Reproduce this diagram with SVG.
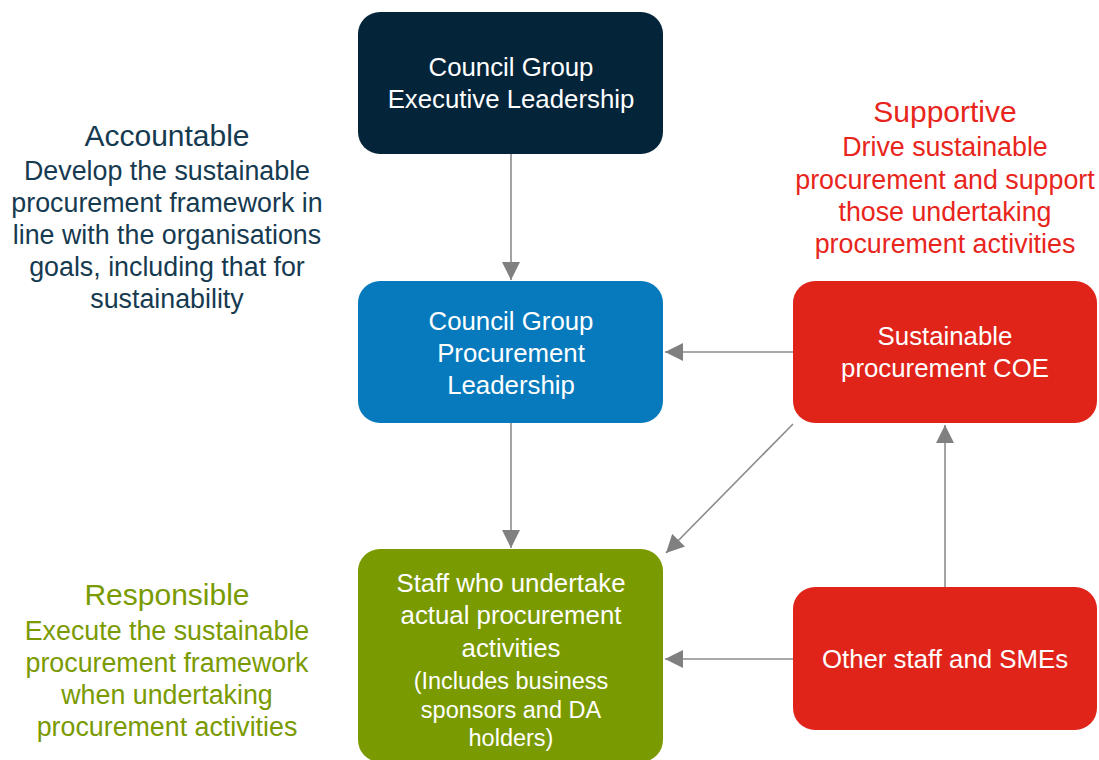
<svg xmlns="http://www.w3.org/2000/svg" width="1099" height="760" viewBox="0 0 1099 760">
<defs>
<marker id="arr" viewBox="0 0 10 10" refX="10" refY="5" markerUnits="userSpaceOnUse" markerWidth="18" markerHeight="18" orient="auto">
<path d="M0,0 L10,5 L0,10 z" fill="#808080"/>
</marker>
<style>
text{font-family:"Liberation Sans",Arial,sans-serif;text-anchor:middle}
.nt{fill:#ffffff;font-size:25.8px}
.ns{fill:#ffffff;font-size:23.5px}
.side{font-size:26.8px}
.title{font-size:30px}
.conn line{stroke:#8c8c8c;stroke-width:1.6;marker-end:url(#arr)}
</style>
</defs>
<rect width="1099" height="760" fill="#ffffff"/>
<g id="conn" class="conn">
<line x1="511" y1="154" x2="511" y2="280"/>
<line x1="511" y1="423" x2="511" y2="548"/>
<line x1="793" y1="352" x2="665" y2="352"/>
<line x1="793" y1="424" x2="666" y2="553"/>
<line x1="945" y1="587" x2="945" y2="425"/>
<line x1="793" y1="659" x2="665" y2="659"/>
</g>
<g id="exec">
<rect x="358" y="12" width="305" height="142" rx="22" fill="#04243a"/>
<text class="nt" x="511" y="76">Council Group</text>
<text class="nt" x="511" y="108">Executive Leadership</text>
</g>
<g id="procurement-leadership">
<rect x="358" y="281" width="305" height="142" rx="22" fill="#067abd"/>
<text class="nt" x="511" y="330">Council Group</text>
<text class="nt" x="511" y="362">Procurement</text>
<text class="nt" x="511" y="394">Leadership</text>
</g>
<g id="staff">
<rect x="358" y="549" width="305" height="213" rx="22" fill="#7a9a01"/>
<text class="nt" x="511" y="592">Staff who undertake</text>
<text class="nt" x="511" y="624">actual procurement</text>
<text class="nt" x="511" y="657">activities</text>
<text class="ns" x="511" y="689">(Includes business</text>
<text class="ns" x="511" y="718">sponsors and DA</text>
<text class="ns" x="511" y="746">holders)</text>
</g>
<g id="coe">
<rect x="793" y="281" width="304" height="142" rx="22" fill="#e1241a"/>
<text class="nt" x="945" y="345">Sustainable</text>
<text class="nt" x="945" y="377">procurement COE</text>
</g>
<g id="other">
<rect x="793" y="587" width="304" height="143" rx="22" fill="#e1241a"/>
<text class="nt" x="945" y="668">Other staff and SMEs</text>
</g>
<g id="accountable" fill="#163a50">
<text class="title" x="167" y="146">Accountable</text>
<text class="side" x="167" y="180">Develop the sustainable</text>
<text class="side" x="167" y="212">procurement framework in</text>
<text class="side" x="167" y="244">line with the organisations</text>
<text class="side" x="167" y="276">goals, including that for</text>
<text class="side" x="167" y="308">sustainability</text>
</g>
<g id="supportive" fill="#e8251c">
<text class="title" x="945" y="122">Supportive</text>
<text class="side" x="945" y="156">Drive sustainable</text>
<text class="side" x="945" y="189">procurement and support</text>
<text class="side" x="945" y="221">those undertaking</text>
<text class="side" x="945" y="253">procurement activities</text>
</g>
<g id="responsible" fill="#7a9a01">
<text class="title" x="167" y="605">Responsible</text>
<text class="side" x="167" y="640">Execute the sustainable</text>
<text class="side" x="167" y="672">procurement framework</text>
<text class="side" x="167" y="704">when undertaking</text>
<text class="side" x="167" y="736">procurement activities</text>
</g>
</svg>
